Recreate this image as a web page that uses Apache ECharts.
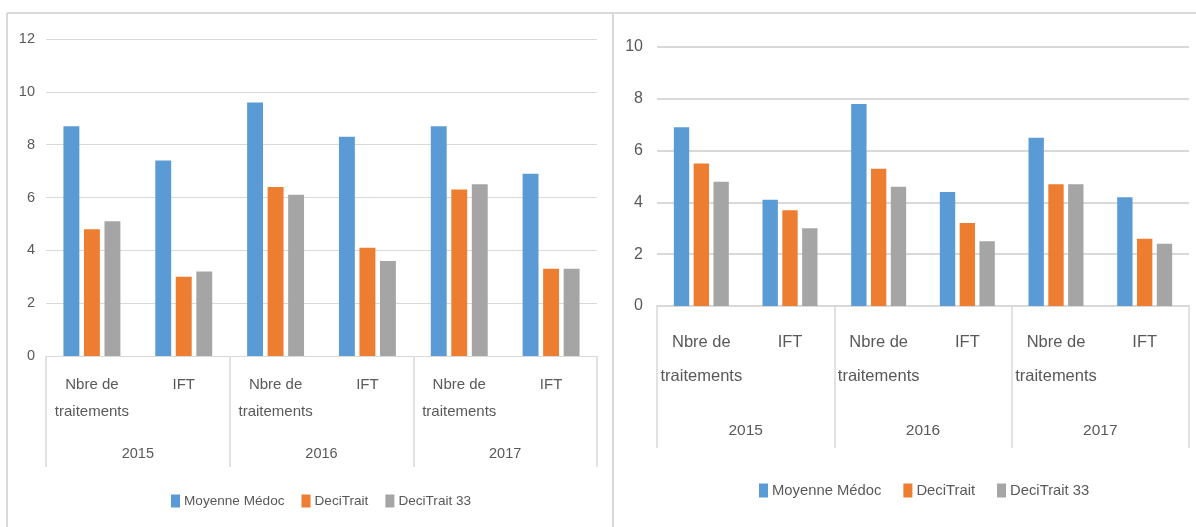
<!DOCTYPE html>
<html>
<head>
<meta charset="utf-8">
<script src="https://cdn.jsdelivr.net/npm/echarts@6/dist/echarts.min.js"></script>
<style>
html,body{margin:0;padding:0;background:#fff;}
#chart{width:1196px;height:527px;}
</style>
</head>
<body>
<div id="chart"></div>
<script>
// ---- data ----
var categories = ['Nbre de\ntraitements', 'IFT', 'Nbre de\ntraitements', 'IFT', 'Nbre de\ntraitements', 'IFT'];
var years = ['2015', '2016', '2017'];
var seriesNames = ['Moyenne Médoc', 'DeciTrait', 'DeciTrait 33'];
// left chart
var moyenneMedocLeft = [8.7, 7.4, 9.6, 8.3, 8.7, 6.9];
var deciTraitLeft    = [4.8, 3.0, 6.4, 4.1, 6.3, 3.3];
var deciTrait33Left  = [5.1, 3.2, 6.1, 3.6, 6.5, 3.3];
// right chart
var moyenneMedocRight = [6.9, 4.1, 7.8, 4.4, 6.5, 4.2];
var deciTraitRight    = [5.5, 3.7, 5.3, 3.2, 4.7, 2.6];
var deciTrait33Right  = [4.8, 3.0, 4.6, 2.5, 4.7, 2.4];

var colors = ['#5B9BD5', '#ED7D31', '#A5A5A5'];
var FONT = "'Liberation Sans', Arial, sans-serif";
var TXT = '#595959';
var GRID_C = '#D9D9D9';

function bars(gridIdx, arrs) {
  return arrs.map(function (d, i) {
    return {
      name: seriesNames[i], type: 'bar', xAxisIndex: gridIdx * 2, yAxisIndex: gridIdx,
      data: d, itemStyle: { color: colors[i] },
      barGap: '29%', barCategoryGap: '38%'
    };
  });
}

function catAxis(gridIdx, fs, lh, margin) {
  return {
    gridIndex: gridIdx, type: 'category', position: 'bottom', data: categories,
    axisLine: { show: true, lineStyle: { color: GRID_C, width: gridIdx ? 2 : 1 } },
    axisTick: { show: false },
    axisLabel: { interval: 0, margin: margin, color: TXT, fontSize: fs, lineHeight: lh, fontFamily: FONT }
  };
}
function yearAxis(gridIdx, fs, margin, tickLen) {
  return {
    gridIndex: gridIdx, type: 'category', position: 'bottom', data: years,
    axisLine: { show: false },
    axisTick: { show: true, interval: 0, length: tickLen, lineStyle: { color: GRID_C, width: 1.5 } },
    axisLabel: { interval: 0, margin: margin, color: TXT, fontSize: fs, fontFamily: FONT },
    splitLine: { show: false }
  };
}
function valAxis(gridIdx, max, fs, margin, lw) {
  return {
    gridIndex: gridIdx, type: 'value', min: 0, max: max, interval: 2,
    axisLine: { show: false }, axisTick: { show: false },
    axisLabel: { margin: margin, color: TXT, fontSize: fs, fontFamily: FONT },
    splitLine: { lineStyle: { color: GRID_C, width: lw } }
  };
}

var chart = echarts.init(document.getElementById('chart'), null, { renderer: 'canvas' });
chart.setOption({
  backgroundColor: '#fff',
  animation: false,
  textStyle: { fontFamily: FONT },
  grid: [
    { left: 46, top: 39, width: 551, height: 317 },
    { left: 657, top: 47, width: 532, height: 259 }
  ],
  xAxis: [
    catAxis(0, 15, 27, 15),
    yearAxis(0, 14.5, 90, 111),
    catAxis(1, 16.5, 34, 19),
    yearAxis(1, 15.5, 117, 142)
  ],
  yAxis: [
    valAxis(0, 12, 14.5, 11, 1),
    valAxis(1, 10, 16, 14, 2)
  ],
  legend: [
    { left: 166, top: 489, itemWidth: 9, itemHeight: 13, itemGap: 17, icon: 'rect', data: seriesNames,
      textStyle: { color: TXT, fontSize: 13.6, fontFamily: FONT, padding: [0, 0, 0, -1] } },
    { left: 754, top: 478, itemWidth: 9, itemHeight: 14, itemGap: 22, icon: 'rect', data: seriesNames,
      textStyle: { color: TXT, fontSize: 14.8, fontFamily: FONT, padding: [0, 0, 0, -1] } }
  ],
  graphic: [
    { type: 'line', shape: { x1: 7, y1: 13, x2: 1196, y2: 13 }, style: { stroke: GRID_C, lineWidth: 2 }, silent: true },
    { type: 'line', shape: { x1: 7, y1: 13, x2: 7, y2: 527 }, style: { stroke: GRID_C, lineWidth: 2 }, silent: true },
    { type: 'line', shape: { x1: 613, y1: 13, x2: 613, y2: 527 }, style: { stroke: GRID_C, lineWidth: 2 }, silent: true }
  ],
  series: bars(0, [moyenneMedocLeft, deciTraitLeft, deciTrait33Left])
    .concat(bars(1, [moyenneMedocRight, deciTraitRight, deciTrait33Right]))
});
</script>
</body>
</html>
